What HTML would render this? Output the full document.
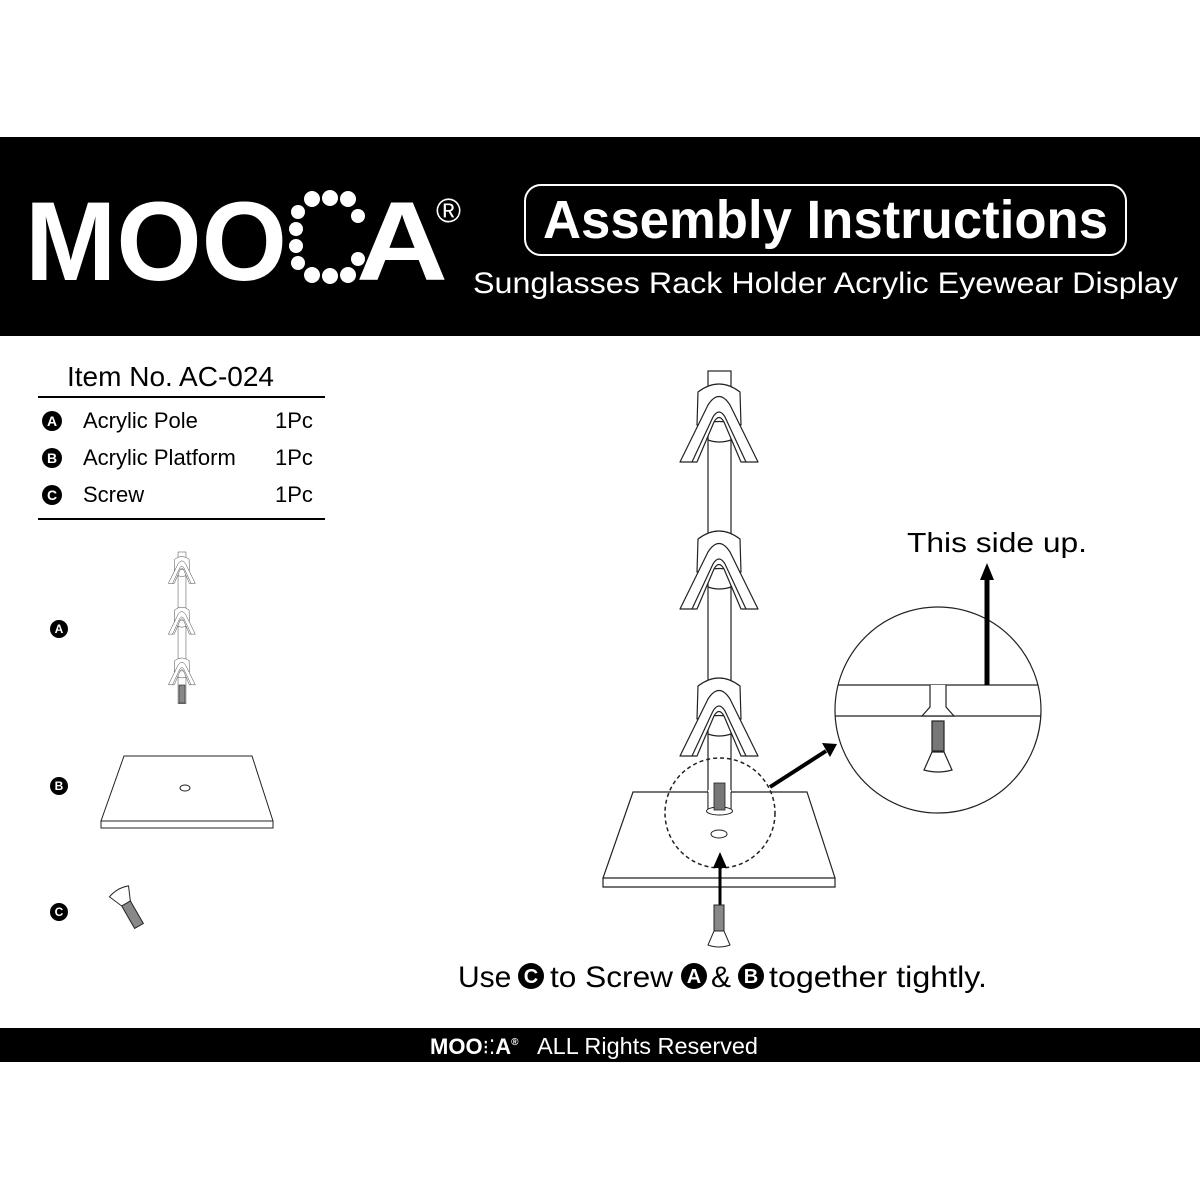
<!DOCTYPE html>
<html><head><meta charset="utf-8"><style>
html,body{margin:0;padding:0;background:#fff;}
svg{display:block;font-family:"Liberation Sans",Arial,sans-serif;}
</style></head><body>
<svg width="1200" height="1200" viewBox="0 0 1200 1200" xmlns="http://www.w3.org/2000/svg">
<defs>
<g id="hanger" fill="#fff" stroke="#222" stroke-width="1.2" stroke-linejoin="round">
  <path d="M698,392 Q719,376 740,392 L741,425 Q719,418 697,425 Z"/>
  <path d="M680,462 L708,405 Q719,388 730,405 L758,462 L741,462 L724,422 Q719,413 714,422 L697,462 Z"/>
  <path d="M692,462 L713,417 Q719,407 725,417 L746,462" fill="none"/>
  <path d="M708,440 Q719,444 731,440" fill="none"/>
</g>
<g id="pole">
  <rect x="708" y="371" width="23" height="440" fill="#fff" stroke="#222" stroke-width="1.2"/>
  <use href="#hanger"/>
  <use href="#hanger" transform="translate(0,147)"/>
  <use href="#hanger" transform="translate(0,294)"/>
</g>
<g id="screw" stroke="#222" stroke-width="1" fill="#fff">
  <rect x="-5" y="-30" width="10" height="28" fill="#888"/>
  <path d="M-5,-4 L5,-4 L11,10 Q0,14 -11,10 Z"/>
</g>
</defs>

<!-- header -->
<rect x="0" y="137" width="1200" height="199" fill="#000"/>
<text x="25" y="280" font-size="112" font-weight="bold" fill="#fff" textLength="262" lengthAdjust="spacingAndGlyphs">MOO</text>
<g fill="#fff">
  <circle cx="312" cy="199" r="8"/><circle cx="330" cy="198" r="8"/><circle cx="348" cy="199" r="8"/>
  <circle cx="358" cy="216" r="7"/><circle cx="358" cy="259" r="7"/>
  <circle cx="298" cy="212" r="7"/><circle cx="296" cy="229" r="7"/><circle cx="296" cy="246" r="7"/><circle cx="298" cy="263" r="7"/>
  <circle cx="312" cy="275" r="8"/><circle cx="330" cy="276" r="8"/><circle cx="348" cy="275" r="8"/>
</g>
<text x="356" y="280" font-size="112" font-weight="bold" fill="#fff" textLength="92" lengthAdjust="spacingAndGlyphs">A</text>
<text x="436" y="222" font-size="34" fill="#fff">®</text>
<rect x="525" y="185" width="601" height="70" rx="16" fill="none" stroke="#fff" stroke-width="2"/>
<text x="543" y="238" font-size="54" font-weight="bold" fill="#fff" textLength="565" lengthAdjust="spacingAndGlyphs">Assembly Instructions</text>
<text x="473" y="293" font-size="30" fill="#fff" textLength="705" lengthAdjust="spacingAndGlyphs">Sunglasses Rack Holder Acrylic Eyewear Display</text>

<!-- table -->
<text x="67" y="386" font-size="28">Item No. AC-024</text>
<line x1="38" y1="397" x2="325" y2="397" stroke="#000" stroke-width="2"/>
<g font-size="22">
  <circle cx="52" cy="421" r="10"/><text x="52" y="426" font-size="14" font-weight="bold" fill="#fff" text-anchor="middle">A</text>
  <text x="83" y="428">Acrylic Pole</text><text x="275" y="428">1Pc</text>
  <circle cx="52" cy="458" r="10"/><text x="52" y="463" font-size="14" font-weight="bold" fill="#fff" text-anchor="middle">B</text>
  <text x="83" y="465">Acrylic Platform</text><text x="275" y="465">1Pc</text>
  <circle cx="52" cy="495" r="10"/><text x="52" y="500" font-size="14" font-weight="bold" fill="#fff" text-anchor="middle">C</text>
  <text x="83" y="502">Screw</text><text x="275" y="502">1Pc</text>
</g>
<line x1="38" y1="519" x2="325" y2="519" stroke="#000" stroke-width="2"/>

<!-- parts left -->
<g font-weight="bold" text-anchor="middle">
  <circle cx="59" cy="629" r="9"/><text x="59" y="633" fill="#fff" font-size="12">A</text>
  <circle cx="59" cy="786" r="9"/><text x="59" y="790" fill="#fff" font-size="12">B</text>
  <circle cx="59" cy="912" r="9"/><text x="59" y="916" fill="#fff" font-size="12">C</text>
</g>
<g transform="translate(182,552) scale(0.345) translate(-719.5,-371)"><use href="#pole"/></g>
<rect x="179" y="685" width="6" height="18" fill="#888" stroke="#222" stroke-width="0.6"/>
<path d="M124,756 L252,756 L273,821 L101,821 Z M101,821 L101,828 L273,828 L273,821" fill="#fff" stroke="#222" stroke-width="1"/>
<ellipse cx="185" cy="788" rx="5" ry="3" fill="#fff" stroke="#222"/>
<g transform="translate(124,900) rotate(-30)"><g transform="scale(1,-1)"><use href="#screw"/></g></g>

<!-- main assembly -->
<path d="M633,792 L807,792 L835,878 L603,878 Z M603,878 L603,887 L835,887 L835,878" fill="#fff" stroke="#222" stroke-width="1.2"/>
<use href="#pole"/>
<rect x="708" y="790" width="23" height="20" fill="#fff" stroke="none"/>
<line x1="708" y1="792" x2="708" y2="810" stroke="#222"/><line x1="731" y1="792" x2="731" y2="810" stroke="#222"/>
<ellipse cx="719.5" cy="811" rx="13" ry="4" fill="#fff" stroke="#222"/>
<rect x="714" y="783" width="11" height="27" fill="#777" stroke="#222" stroke-width="0.8"/>
<ellipse cx="719" cy="834" rx="8" ry="4" fill="#fff" stroke="#222"/>
<circle cx="720" cy="813" r="55" fill="none" stroke="#222" stroke-width="1.5" stroke-dasharray="4,3"/>
<line x1="720" y1="913" x2="720" y2="866" stroke="#000" stroke-width="3"/>
<path d="M713,868 L720,852 L727,868 Z"/>
<g transform="translate(719,935)"><use href="#screw"/></g>
<line x1="770" y1="787" x2="826" y2="751" stroke="#000" stroke-width="4"/>
<path d="M822,743 L837,744 L830,757 Z"/>

<!-- detail circle -->
<clipPath id="cc"><circle cx="938" cy="710" r="103"/></clipPath>
<circle cx="938" cy="710" r="103" fill="#fff" stroke="#222" stroke-width="1.2"/>
<g clip-path="url(#cc)" stroke="#222" stroke-width="1.2" fill="#fff">
  <line x1="830" y1="685" x2="1050" y2="685"/>
  <line x1="830" y1="716" x2="1050" y2="716"/>
  <path d="M930,685 L930,707 L922,716 L954,716 L946,707 L946,685" fill="#fff"/>
  <rect x="932" y="721" width="12" height="30" fill="#777"/>
  <path d="M932,752 L944,752 L952,770 Q938,774 924,770 Z"/>
</g>
<rect x="984.5" y="578" width="5" height="107" fill="#000"/>
<path d="M980,580 L987,563 L994,580 Z"/>
<text x="907" y="552" font-size="28" textLength="180" lengthAdjust="spacingAndGlyphs">This side up.</text>

<!-- bottom instruction -->
<g font-size="30">
  <text x="458" y="987">Use</text>
  <circle cx="531" cy="976" r="13"/><text x="531" y="983" font-size="20" font-weight="bold" fill="#fff" text-anchor="middle">C</text>
  <text x="550" y="987" textLength="123" lengthAdjust="spacingAndGlyphs">to Screw</text>
  <circle cx="694" cy="976" r="13"/><text x="694" y="983" font-size="20" font-weight="bold" fill="#fff" text-anchor="middle">A</text>
  <text x="711" y="987">&amp;</text>
  <circle cx="751" cy="976" r="13"/><text x="751" y="983" font-size="20" font-weight="bold" fill="#fff" text-anchor="middle">B</text>
  <text x="769" y="987" textLength="218" lengthAdjust="spacingAndGlyphs">together tightly.</text>
</g>

<!-- footer -->
<rect x="0" y="1028" width="1200" height="34" fill="#000"/>
<text x="430" y="1054" font-size="22" font-weight="bold" fill="#fff">MOO<tspan font-weight="normal" font-size="20">⁝⁚</tspan>A<tspan font-size="10" dy="-9">®</tspan></text>
<text x="537" y="1054" font-size="23" fill="#fff" textLength="221" lengthAdjust="spacingAndGlyphs">ALL Rights Reserved</text>
</svg>
</body></html>
